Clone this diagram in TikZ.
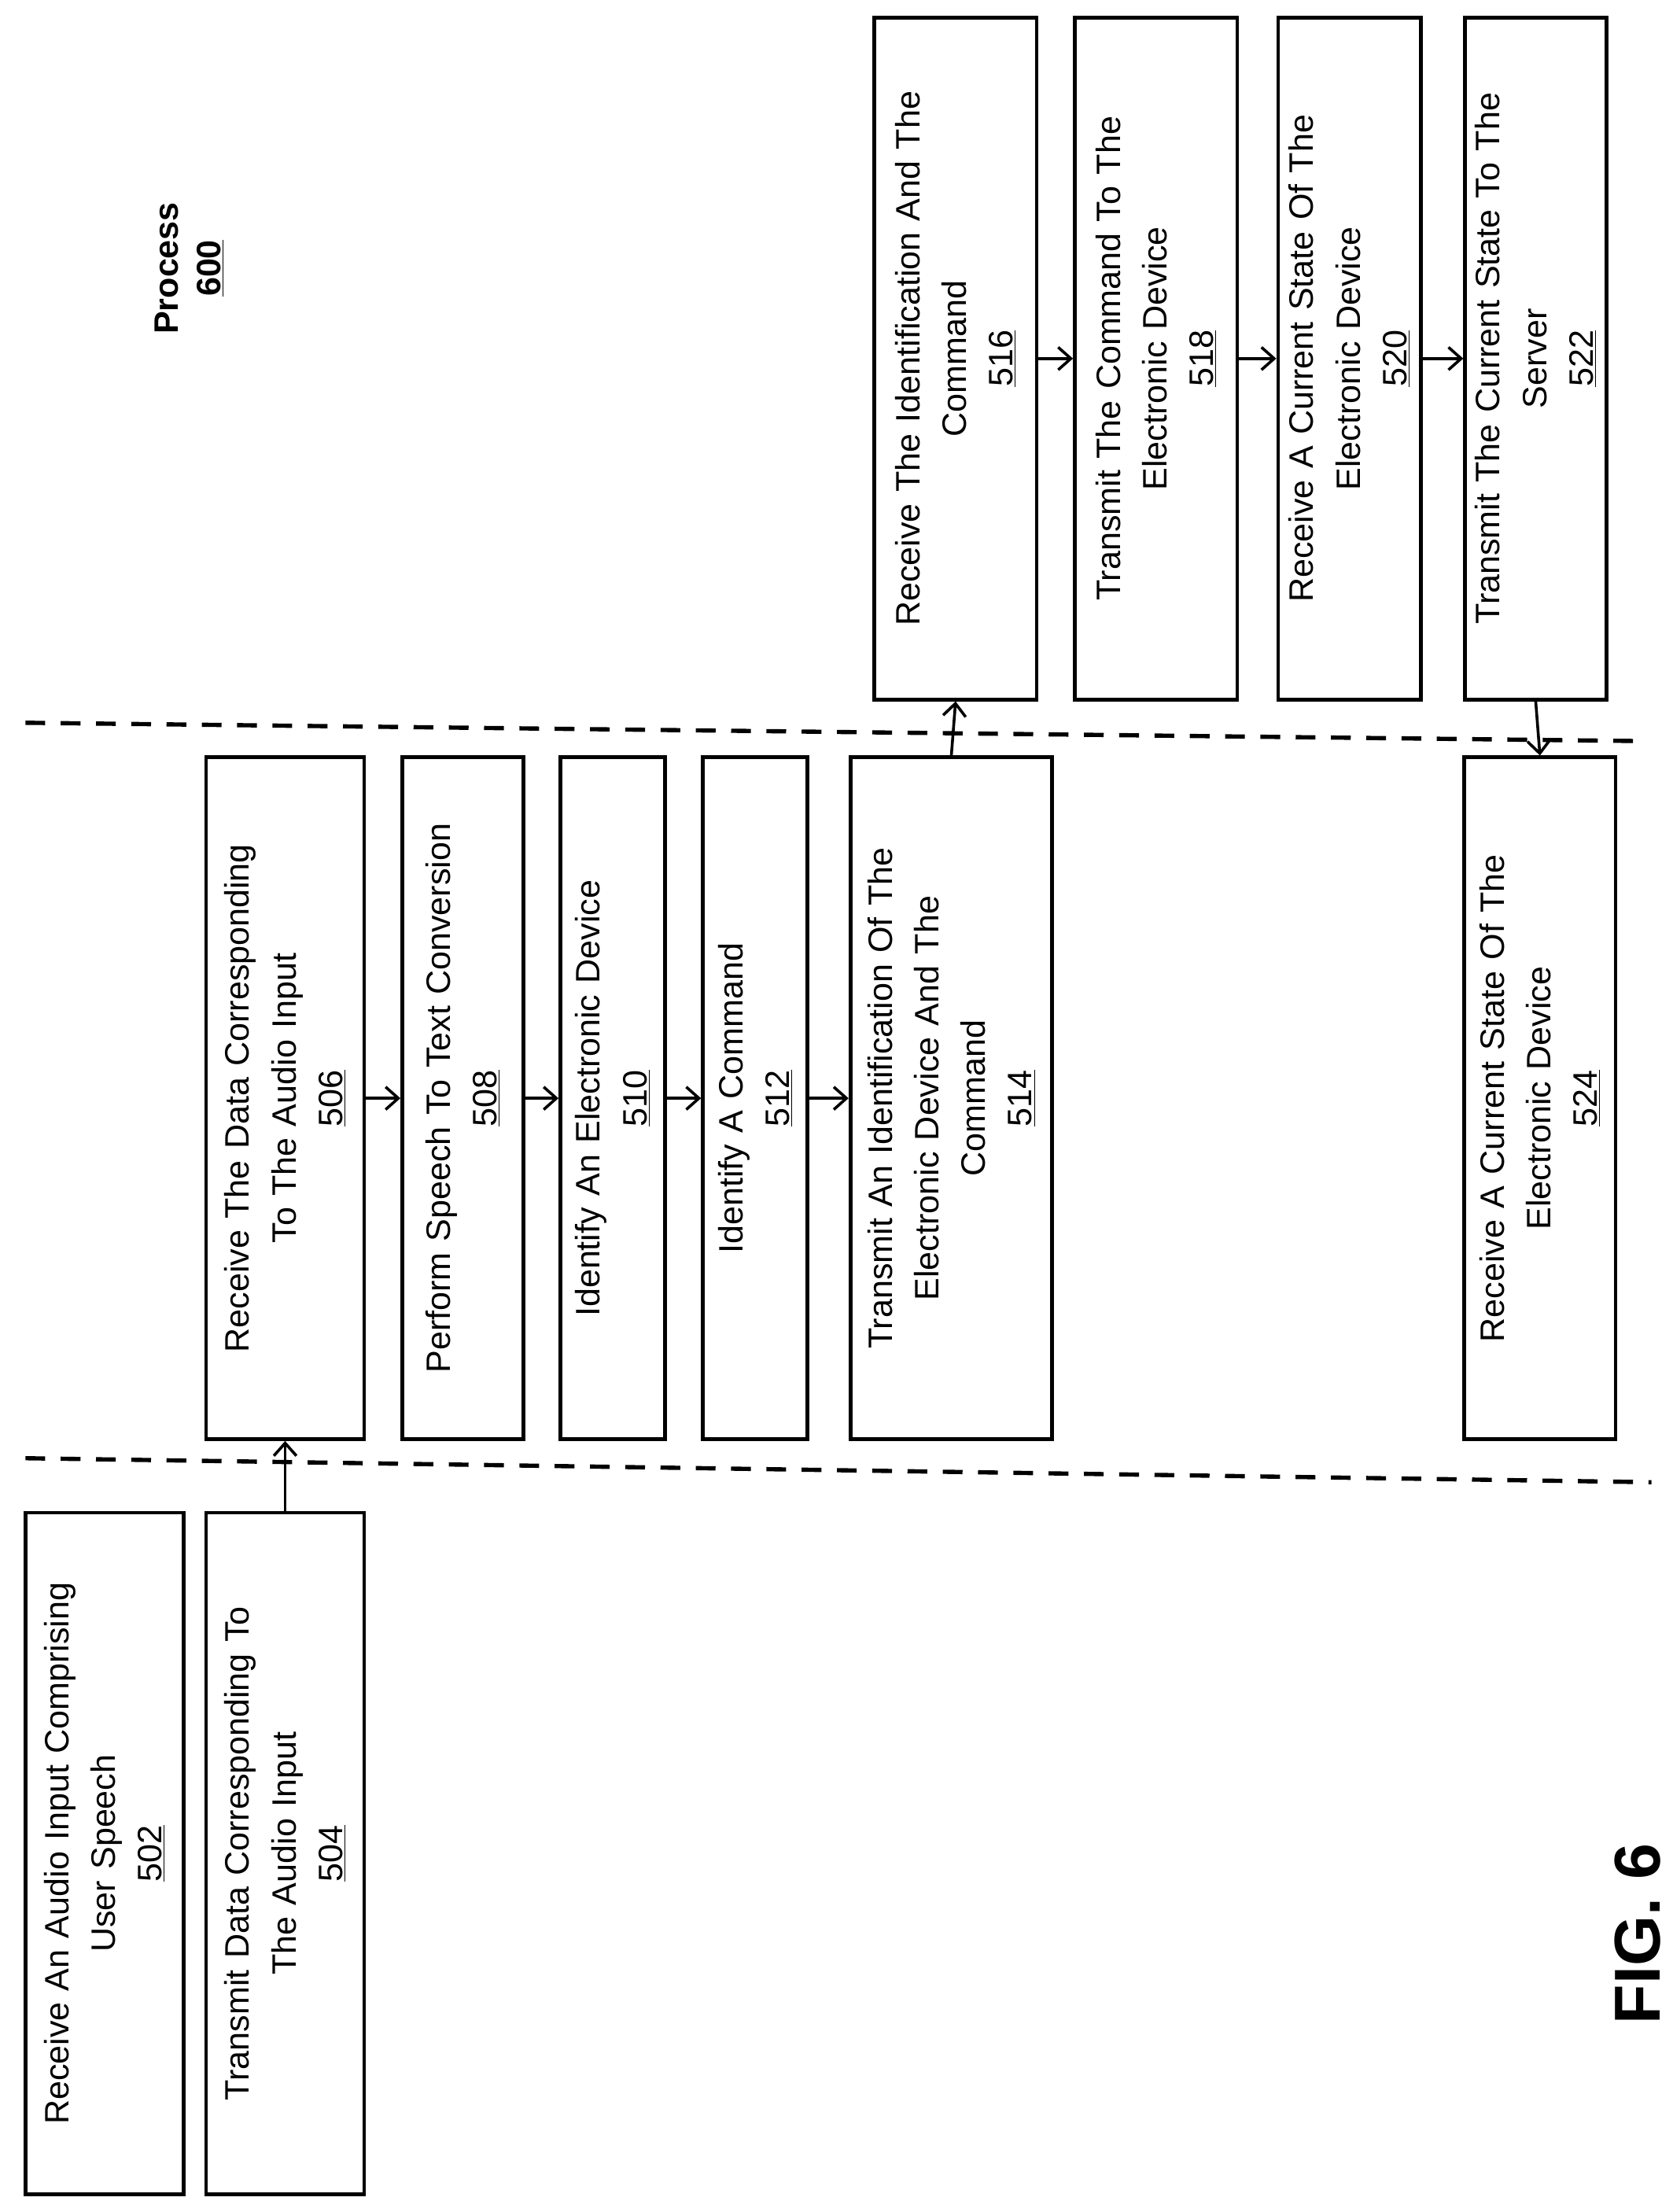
\documentclass[tikz,border=0pt]{standalone}
\usepackage{fontspec}
\setmainfont{Liberation Sans}
\usetikzlibrary{arrows.meta}
\begin{document}
\begin{tikzpicture}[x=1pt,y=-1pt,
 box/.style={draw,line width=2.6pt,rotate=90,minimum width=483pt,align=center,text width=465pt,inner sep=0pt,font=\fontsize{24}{33}\selectfont},
 arr/.style={line width=2pt,-{Straight Barb[length=9pt,width=16pt,line width=2pt]}},
 sep/.style={line width=3pt,dash pattern=on 14pt off 11pt}]
\useasboundingbox (0,0) rectangle (1185,1567);
\node[box,minimum height=112pt] (b502) at (74,1313) {Receive An Audio Input Comprising\\User Speech\\\underline{502}};
\node[box,minimum height=112pt] (b504) at (202,1313) {Transmit Data Corresponding To\\The Audio Input\\\underline{504}};
\node[box,minimum height=112pt] (b506) at (202,778) {Receive The Data Corresponding\\To The Audio Input\\\underline{506}};
\node[box,minimum height=86pt] (b508) at (328,778) {Perform Speech To Text Conversion\\\underline{508}};
\node[box,minimum height=74pt] (b510) at (434,778) {Identify An Electronic Device\\\underline{510}};
\node[box,minimum height=74pt] (b512) at (535,778) {Identify A Command\\\underline{512}};
\node[box,minimum height=143pt] (b514) at (674,778) {Transmit An Identification Of The\\Electronic Device And The\\Command\\\underline{514}};
\node[box,minimum height=115pt] (b516) at (677,254) {Receive The Identification And The\\Command\\\underline{516}};
\node[box,minimum height=115pt] (b518) at (819,254) {Transmit The Command To The\\Electronic Device\\\underline{518}};
\node[box,minimum height=101pt] (b520) at (956,254) {Receive A Current State Of The\\Electronic Device\\\underline{520}};
\node[box,minimum height=100pt] (b522) at (1088,254) {Transmit The Current State To The\\Server\\\underline{522}};
\node[box,minimum height=107pt] (b524) at (1091,778) {Receive A Current State Of The\\Electronic Device\\\underline{524}};
\node[rotate=90,align=center,font=\fontsize{24}{30}\selectfont\bfseries] (proc) at (134,190) {Process\\\underline{600}};
\node[rotate=90,font=\fontsize{46}{50}\selectfont\bfseries] (fig) at (1160,1370) {FIG. 6};
\coordinate (l1a) at (18,1033); \coordinate (l1b) at (1170,1050);
\coordinate (l2a) at (18,512); \coordinate (l2b) at (1165,525);
\draw[sep] (l1a) -- (l1b);
\draw[sep] (l2a) -- (l2b);
\draw[arr] (b504.east) -- (b506.west);
\draw[arr] (b506.south) -- (b508.north);
\draw[arr] (b508.south) -- (b510.north);
\draw[arr] (b510.south) -- (b512.north);
\draw[arr] (b512.south) -- (b514.north);
\draw[arr] (b514.east) -- (b516.west);
\draw[arr] (b516.south) -- (b518.north);
\draw[arr] (b518.south) -- (b520.north);
\draw[arr] (b520.south) -- (b522.north);
\draw[arr] (b522.west) -- (b524.east);
\end{tikzpicture}
\end{document}
